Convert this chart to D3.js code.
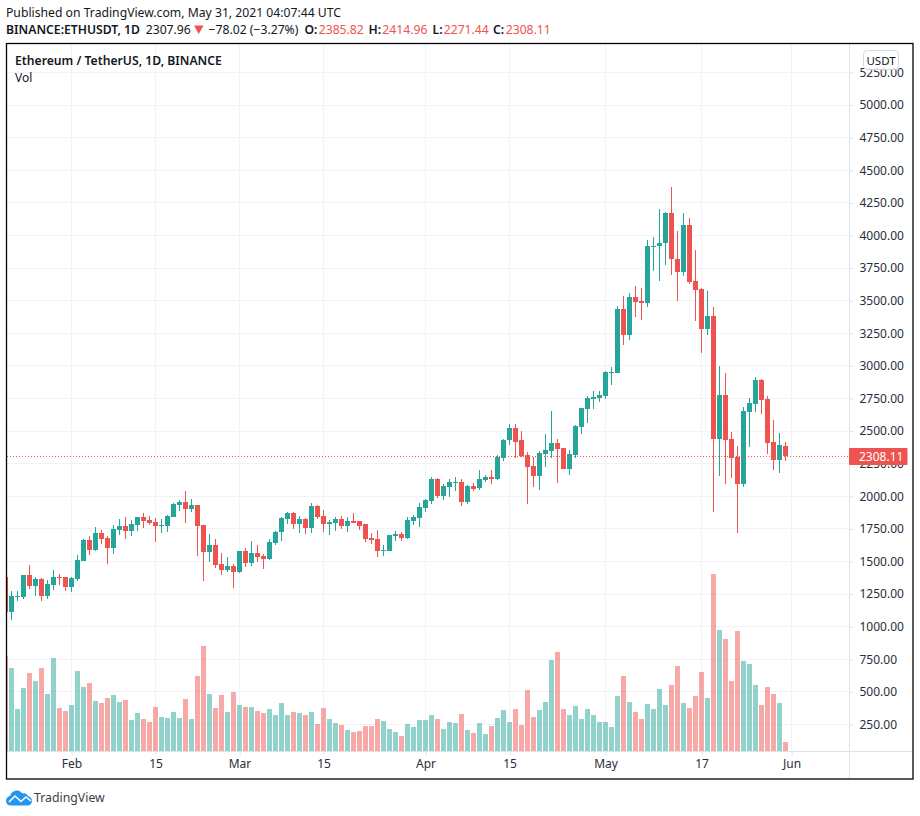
<!DOCTYPE html>
<html>
<head>
<meta charset="utf-8">
<script src="https://cdn.jsdelivr.net/npm/d3@7"></script>
<style>
  html, body { margin: 0; padding: 0; background: #fff; }
  svg { display: block; }
  text { font-family: "Noto Sans", sans-serif; }
</style>
</head>
<body>
<div id="chart"></div>
<script>
// daily candles, 21 Jan to 31 May 2021, one line per month
const opens = [
  1383,1111,1230,1230,1398,1314,1368,1238,1322,1383,1383,
  1307,1368,1505,1665,1589,1718,1680,1604,1741,1771,1733,1779,1840,1817,1802,1771,1771,1840,1931,1954,1901,1931,1779,1573,1627,1482,1436,1462,
  1416,1577,1485,1569,1546,1523,1645,1730,1829,1875,1791,1829,1760,1929,1852,1791,1798,1829,1776,1814,1814,1791,1684,1676,1577,1584,1699,1714,1684,1814,1837,
  1913,1967,2135,2005,2072,2103,2111,1956,2080,2064,2126,2149,2134,2296,2428,2521,2428,2320,2235,2157,2327,2350,2405,2374,2211,2320,2528,2667,2745,2752,
  2768,2944,2944,3434,3235,3525,3495,3480,3908,3916,3939,4176,3816,3717,4077,3648,3587,3281,3380,2436,2774,2436,2298,2091,2644,2705,2890,2744,2413,2275,2386
];
const highs = [
  1390,1276,1276,1398,1474,1383,1375,1360,1436,1406,1383,
  1383,1550,1672,1695,1764,1741,1695,1779,1825,1840,1817,1840,1870,1848,1832,1825,1855,1947,1970,2038,1977,1931,1779,1710,1672,1569,1531,1477,
  1577,1607,1661,1630,1554,1676,1737,1844,1883,1883,1852,1837,1952,1936,1898,1821,1844,1852,1844,1875,1814,1791,1722,1745,1630,1707,1737,1730,1844,1860,1952,
  1982,2150,2143,2097,2134,2149,2134,2088,2103,2204,2165,2204,2320,2443,2551,2551,2497,2343,2304,2350,2474,2652,2443,2374,2358,2544,2675,2768,2807,2807,
  2961,2990,3457,3533,3556,3610,3594,3962,3985,4207,4184,4375,4038,4176,4138,3885,3594,3571,3449,2997,2943,2490,2383,2682,2751,2913,2897,2767,2582,2482,2415
];
const lows = [
  1050,1055,1195,1215,1291,1238,1200,1215,1284,1322,1276,
  1268,1352,1505,1550,1581,1634,1482,1558,1703,1672,1695,1733,1756,1779,1649,1718,1726,1840,1886,1794,1878,1543,1352,1497,1451,1400,1423,1293,
  1408,1454,1469,1500,1439,1508,1630,1661,1791,1753,1722,1714,1722,1829,1730,1707,1737,1753,1730,1798,1745,1653,1638,1531,1546,1584,1661,1661,1676,1783,1768,
  1883,1944,1990,1974,1995,2041,1925,1941,2041,2049,2111,2095,2126,2273,2397,2296,2304,1941,2072,2049,2227,2296,2103,2211,2165,2296,2474,2559,2667,2722,
  2745,2853,2944,3158,3196,3372,3349,3449,3724,3648,3770,3694,3495,3686,3625,3342,3097,3235,1883,2152,2098,2144,1722,2075,2375,2644,2628,2321,2198,2175,2271
];
const closes = [
  1111,1238,1238,1398,1314,1368,1238,1329,1383,1375,1307,
  1375,1512,1665,1589,1718,1672,1604,1749,1771,1733,1787,1840,1810,1794,1771,1779,1848,1939,1954,1901,1931,1771,1573,1627,1474,1436,1462,1416,
  1577,1485,1569,1538,1523,1653,1730,1837,1875,1791,1829,1760,1929,1844,1791,1806,1829,1776,1814,1798,1776,1676,1668,1577,1592,1707,1714,1684,1821,1844,1921,
  1974,2135,2005,2082,2111,2111,1956,2080,2057,2134,2149,2134,2304,2435,2521,2420,2312,2227,2157,2335,2358,2405,2366,2211,2327,2536,2675,2752,2760,2776,
  2953,2953,3434,3235,3525,3487,3480,3916,3923,3946,4176,3816,3717,4077,3640,3579,3281,3380,2436,2774,2429,2290,2091,2651,2713,2890,2736,2406,2275,2390,2308
];
const volumes = [
  285,249,126,189,234,210,249,171,279,129,120,
  138,240,192,204,150,144,159,168,147,153,93,114,96,87,132,102,99,117,99,156,96,225,315,171,129,168,117,177,
  138,132,132,120,114,126,108,144,108,117,114,108,117,81,129,96,84,78,63,57,60,75,75,96,90,66,57,45,81,72,93,
  93,108,96,66,87,84,111,63,54,84,51,75,99,123,87,126,78,183,102,123,147,273,297,126,108,135,97,127,109,88,
  88,73,166,226,148,118,97,142,127,187,139,199,256,145,130,166,238,160,532,364,337,211,361,271,262,199,139,193,172,145,28
];

const priceTicks = [250,500,750,1000,1250,1500,1750,2000,2250,2500,2750,3000,3250,3500,3750,4000,4250,4500,4750,5000,5250];
const timeTicks = ['2021-02-01','2021-02-15','2021-03-01','2021-03-15','2021-04-01','2021-04-15','2021-05-01','2021-05-17','2021-06-01'];
const timeLabels = ['Feb','15','Mar','15','Apr','15','May','17','Jun'];
const lastPrice = 2308.11;

const upColor = '#26a69a';
const downColor = '#ef5350';
const gridColor = '#f0f3fa';
const lineColor = '#dfe2e8';
const textColor = '#131722';
const axisTextColor = '#2a2e39';

const width = 920;
const height = 816;
const plot = { left: 7, right: 849, top: 44, bottom: 751 };

const firstDay = new Date(Date.UTC(2021, 0, 21));
const days = opens.map((d, i) => d3.utcDay.offset(firstDay, i));
const tickDates = timeTicks.map(d => new Date(d + 'T00:00:00Z'));

const svg = d3.select('#chart').append('svg')
  .attr('width', width)
  .attr('height', height);

const x = d3.scaleUtc()
  .domain([new Date(Date.UTC(2021, 1, 1)), new Date(Date.UTC(2021, 5, 1))])
  .range([71.5, 791.5]);
const y = d3.scaleLinear()
  .domain([250, 5250])
  .range([724.5, 72.5]);
const yVol = d3.scaleLinear()
  .domain([0, 532])
  .range([plot.bottom, 574]);

const bodyWidth = 5;
const crisp = v => Math.round(v - 0.5) + 0.5;

svg.append('clipPath').attr('id', 'plot-clip')
  .append('rect')
  .attr('x', plot.left)
  .attr('y', plot.top)
  .attr('width', plot.right - plot.left)
  .attr('height', plot.bottom - plot.top);

// grid
const grid = svg.append('g').attr('stroke', gridColor).attr('stroke-width', 1);
grid.selectAll('.h').data(priceTicks).enter().append('line')
  .attr('x1', plot.left).attr('x2', plot.right)
  .attr('y1', d => crisp(y(d)))
  .attr('y2', d => crisp(y(d)));
grid.selectAll('.v').data(tickDates).enter().append('line')
  .attr('x1', d => x(d)).attr('x2', d => x(d))
  .attr('y1', plot.top).attr('y2', plot.bottom);

const marks = svg.append('g').attr('clip-path', 'url(#plot-clip)');
const isUp = i => closes[i] >= opens[i];

// volume
marks.append('g').selectAll('rect').data(volumes).enter().append('rect')
  .attr('x', (d, i) => x(days[i]) - bodyWidth / 2)
  .attr('width', bodyWidth)
  .attr('y', d => Math.round(yVol(d)))
  .attr('height', d => yVol(0) - Math.round(yVol(d)))
  .attr('fill', (d, i) => isUp(i) ? upColor : downColor)
  .attr('fill-opacity', 0.5);

// last price line
svg.append('line')
  .attr('x1', plot.left).attr('x2', plot.right)
  .attr('y1', crisp(y(lastPrice))).attr('y2', crisp(y(lastPrice)))
  .attr('stroke', downColor)
  .attr('stroke-dasharray', '1 2');

// candles
const candles = marks.append('g').selectAll('g').data(days).enter().append('g')
  .attr('fill', (d, i) => isUp(i) ? upColor : downColor)
  .attr('stroke', (d, i) => isUp(i) ? upColor : downColor);
candles.append('line')
  .attr('x1', d => x(d)).attr('x2', d => x(d))
  .attr('y1', (d, i) => Math.round(y(highs[i])))
  .attr('y2', (d, i) => Math.round(y(lows[i])));
candles.append('rect')
  .attr('x', d => x(d) - bodyWidth / 2)
  .attr('width', bodyWidth)
  .attr('y', (d, i) => Math.round(y(Math.max(opens[i], closes[i]))))
  .attr('height', (d, i) => Math.max(1, Math.round(y(Math.min(opens[i], closes[i]))) - Math.round(y(Math.max(opens[i], closes[i])))))
  .attr('stroke', 'none');

// axes
const xAxis = d3.axisBottom(x)
  .tickValues(tickDates)
  .tickFormat((d, i) => timeLabels[i])
  .tickSize(4)
  .tickPadding(4);
const xG = svg.append('g')
  .attr('transform', 'translate(0,' + (plot.bottom + 0.5) + ')')
  .call(xAxis);
xG.select('.domain').remove();
xG.append('line').attr('x1', plot.left).attr('x2', 913).attr('stroke', lineColor);
xG.selectAll('.tick line').attr('stroke', lineColor);
xG.selectAll('.tick text').attr('fill', axisTextColor).attr('font-size', 12).attr('font-family', '"Noto Sans", sans-serif');

const yAxis = d3.axisRight(y)
  .tickValues(priceTicks)
  .tickFormat(d3.format('.2f'))
  .tickSize(4)
  .tickPadding(6);
const yG = svg.append('g')
  .attr('transform', 'translate(' + (plot.right + 0.5) + ',0)')
  .call(yAxis);
yG.select('.domain').remove();
yG.append('line').attr('y1', plot.top).attr('y2', 779).attr('stroke', lineColor);
yG.selectAll('.tick line').attr('stroke', lineColor);
yG.selectAll('.tick text').attr('fill', axisTextColor).attr('font-size', 12).attr('font-family', '"Noto Sans", sans-serif');

// last price tag
svg.append('rect')
  .attr('x', plot.right).attr('y', crisp(y(lastPrice)) - 8.5)
  .attr('width', 58.5).attr('height', 17)
  .attr('rx', 1)
  .attr('fill', downColor);
svg.append('text')
  .attr('x', 859).attr('y', crisp(y(lastPrice)) + 4.5)
  .attr('font-size', 12).attr('fill', '#fff')
  .text(d3.format('.2f')(lastPrice));

// USDT button
svg.append('rect')
  .attr('x', 863.5).attr('y', 50.5).attr('width', 35).attr('height', 19).attr('rx', 4)
  .attr('fill', '#fff').attr('fill-opacity', 0.85).attr('stroke', '#d6d8e0');
svg.append('text')
  .attr('x', 881).attr('y', 64.5).attr('text-anchor', 'middle')
  .attr('font-size', 11.5).attr('fill', textColor)
  .text('USDT');

// frame
svg.append('rect')
  .attr('x', 6.5).attr('y', 43.5).attr('width', 906.5).attr('height', 735.5)
  .attr('fill', 'none').attr('stroke', '#000').attr('stroke-width', 1.3);

// legend inside the pane
svg.append('text').attr('x', 15).attr('y', 65)
  .attr('font-size', 12.2).attr('font-weight', 600).attr('fill', textColor)
  .text('Ethereum / TetherUS, 1D, BINANCE');
svg.append('text').attr('x', 15).attr('y', 82)
  .attr('font-size', 12).attr('fill', textColor)
  .text('Vol');

// header
svg.append('text').attr('x', 6).attr('y', 17)
  .attr('font-size', 12.2).attr('fill', textColor)
  .text('Published on TradingView.com, May 31, 2021 04:07:44 UTC');

const header = [
  { t: 'BINANCE:ETHUSDT, 1D', x: 6, bold: true },
  { t: '2307.96', x: 145.7 },
  { t: '\u221278.02 (\u22123.27%)', x: 208.5 },
  { t: 'O:', x: 304.5, bold: true }, { t: '2385.82', x: 318.7, red: true },
  { t: 'H:', x: 368.5, bold: true }, { t: '2414.96', x: 382.3, red: true },
  { t: 'L:', x: 432.5, bold: true }, { t: '2271.44', x: 443.7, red: true },
  { t: 'C:', x: 493, bold: true }, { t: '2308.11', x: 505.7, red: true }
];
svg.append('g').selectAll('text').data(header).enter().append('text')
  .attr('x', d => d.x).attr('y', 34)
  .attr('font-size', 12.2)
  .attr('font-weight', d => d.bold ? 600 : 400)
  .attr('fill', d => d.red ? downColor : textColor)
  .text(d => d.t);
svg.append('path')
  .attr('d', 'M194,25.5 L203.5,25.5 L198.75,34 Z')
  .attr('fill', downColor);

// footer logo
const logo = svg.append('g').attr('transform', 'translate(6,790)');
logo.append('path')
  .attr('fill', '#2196f3')
  .attr('d', 'M0,11 C0,8 2,6.5 4,6 C5,3 7,1 10,0.5 C13,0 15,1.5 16.5,3.5 C18,3 21,3.5 22,6 C24.5,6.5 26,8.5 26,11 C26,13.5 24,15.5 21.5,15.5 L4.5,15.5 C2,15.5 0,13.5 0,11 Z');
logo.append('path')
  .attr('fill', 'none').attr('stroke', '#fff').attr('stroke-width', 1.6)
  .attr('d', 'M3,12 L9,6 L15,11.5 L20,7 L25,11');
svg.append('text').attr('x', 34).attr('y', 802)
  .attr('font-size', 12.3).attr('fill', '#3a3e4a')
  .text('TradingView');
</script>
</body>
</html>
